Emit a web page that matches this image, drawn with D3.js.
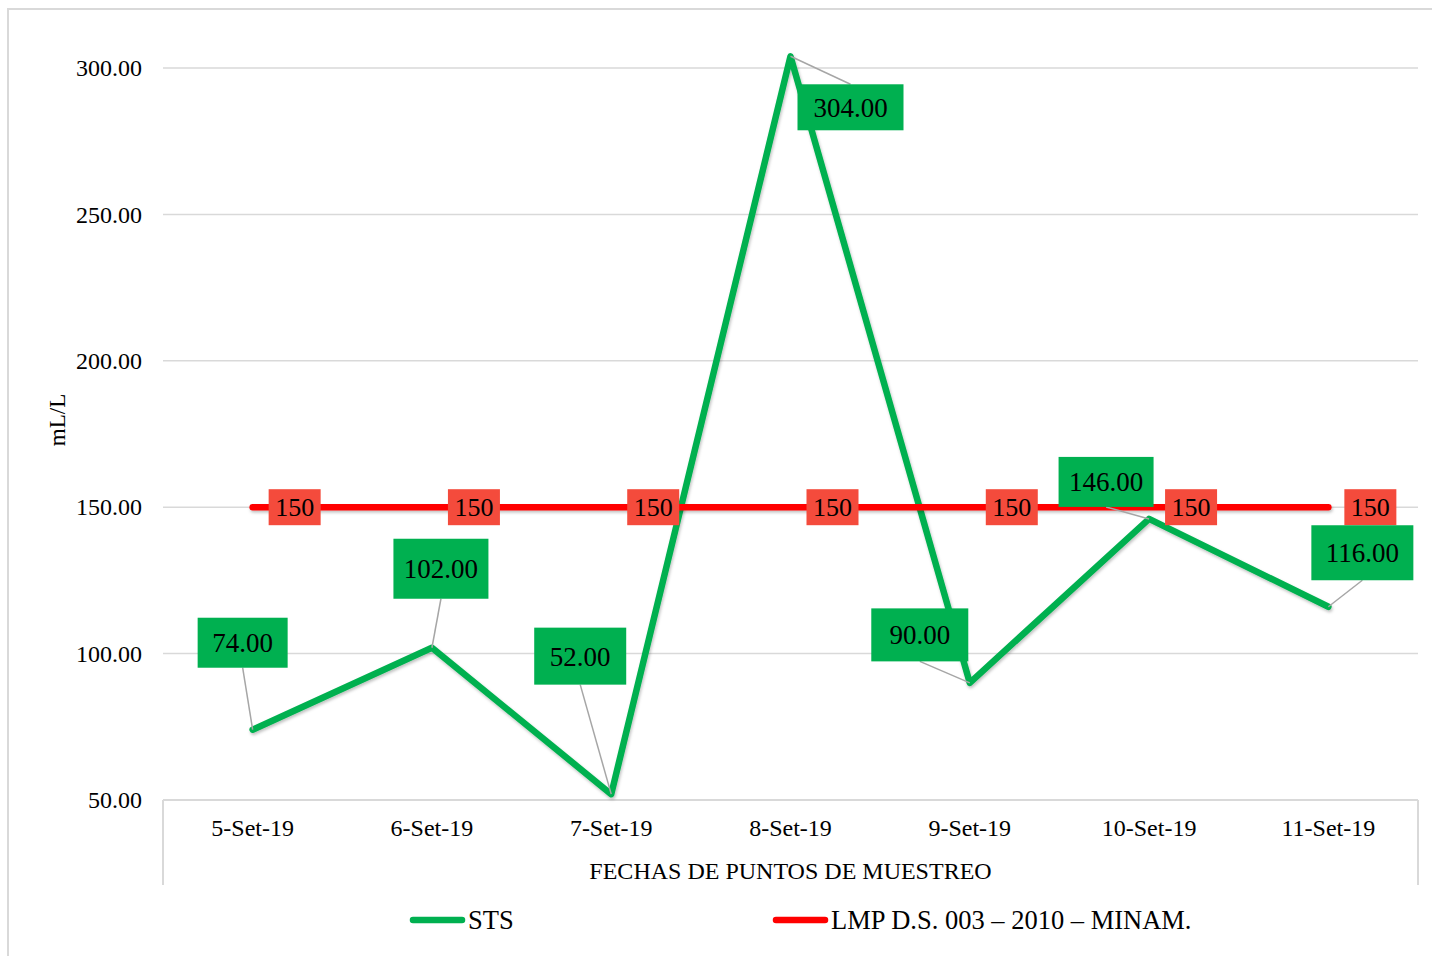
<!DOCTYPE html>
<html>
<head>
<meta charset="utf-8">
<script src="https://cdn.jsdelivr.net/npm/d3@7"></script>
<style>
  body { margin: 0; background: #fff; }
  text { font-family: "Liberation Serif", "Times New Roman", serif; fill: #000; }
</style>
</head>
<body>
<svg id="chart" width="1432" height="956"></svg>
<script>
// data
const fechas = ["5-Set-19", "6-Set-19", "7-Set-19", "8-Set-19", "9-Set-19", "10-Set-19", "11-Set-19"];
const sts = [74, 102, 52, 304, 90, 146, 116];
const lmp = [150, 150, 150, 150, 150, 150, 150];
const yTicks = [50, 100, 150, 200, 250, 300];
// label placement relative to the point (pixels), as in the source chart
const stsLabelOffsets = [[-10, -87], [9, -79], [-31, -138], [60, 51], [-50, -48], [-43, -37], [34, -54]];
const stsLabelSizes = [[90, 50], [95, 60], [92, 57], [106, 46], [97, 53], [95, 50], [102, 55]];

const W = 1432, H = 956;
const margin = { left: 163, right: 14, top: 68, bottom: 156 };
const green = "#00B050", red = "#FF0000", redBox = "#F44B3C";

const svg = d3.select("#chart");

const defs = svg.append("defs");
const f = defs.append("filter").attr("id", "shadow")
    .attr("filterUnits", "userSpaceOnUse")
    .attr("x", 0).attr("y", 0).attr("width", W).attr("height", H);
f.append("feDropShadow").attr("dx", 1).attr("dy", 2).attr("stdDeviation", 1.5)
    .attr("flood-color", "#000").attr("flood-opacity", 0.25);

// outer chart border (cropped on right/bottom)
svg.append("rect")
    .attr("x", 8).attr("y", 9).attr("width", 1440).attr("height", 970)
    .attr("fill", "none").attr("stroke", "#d9d9d9").attr("stroke-width", 2);

const x0 = margin.left, x1 = W - margin.right;
const yTop = margin.top, yBot = 800;

const x = d3.scalePoint()
    .domain(fechas)
    .range([x0, x1])
    .padding(0.5);

const y = d3.scaleLinear()
    .domain([50, 300])
    .range([yBot, yTop]);

// gridlines
svg.append("g")
    .selectAll("line")
    .data(yTicks.filter(d => d > 50))
    .join("line")
    .attr("x1", x0).attr("x2", x1)
    .attr("y1", d => y(d)).attr("y2", d => y(d))
    .attr("stroke", "#d9d9d9").attr("stroke-width", 1.5);

// y axis labels
const yAxis = svg.append("g")
    .attr("transform", "translate(" + x0 + ",0)")
    .call(d3.axisLeft(y).tickValues(yTicks).tickFormat(d3.format(".2f")).tickSize(0).tickPadding(21));
yAxis.select(".domain").remove();
yAxis.selectAll("text")
    .style("font-family", "Liberation Serif, serif")
    .style("font-size", "24px")
    .attr("fill", "#000");

// x axis: baseline + category box edges
svg.append("line")
    .attr("x1", x0).attr("x2", x1).attr("y1", yBot).attr("y2", yBot)
    .attr("stroke", "#d9d9d9").attr("stroke-width", 2);
svg.append("g")
    .selectAll("line")
    .data([x0, x1])
    .join("line")
    .attr("x1", d => d).attr("x2", d => d)
    .attr("y1", yBot).attr("y2", 885)
    .attr("stroke", "#d9d9d9").attr("stroke-width", 2);

svg.append("g")
    .selectAll("text")
    .data(fechas)
    .join("text")
    .attr("x", d => x(d))
    .attr("y", 836)
    .attr("text-anchor", "middle")
    .style("font-size", "24px")
    .text(d => d);

// axis titles
svg.append("text")
    .attr("x", (x0 + x1) / 2).attr("y", 879)
    .attr("text-anchor", "middle")
    .style("font-size", "24px")
    .text("FECHAS DE PUNTOS DE MUESTREO");

svg.append("text")
    .attr("transform", "translate(65,420) rotate(-90)")
    .attr("text-anchor", "middle")
    .style("font-size", "23px")
    .text("mL/L");

// lines
const line = d3.line()
    .x((d, i) => x(fechas[i]))
    .y(d => y(d));

svg.append("path")
    .datum(sts)
    .attr("d", line)
    .attr("fill", "none")
    .attr("stroke", green)
    .attr("stroke-width", 6.5)
    .attr("stroke-linejoin", "round")
    .attr("stroke-linecap", "round")
    .attr("filter", "url(#shadow)");

svg.append("path")
    .datum(lmp)
    .attr("d", line)
    .attr("fill", "none")
    .attr("stroke", red)
    .attr("stroke-width", 6.5)
    .attr("stroke-linejoin", "round")
    .attr("stroke-linecap", "round")
    .attr("filter", "url(#shadow)");

// STS leader lines
const stsLabels = sts.map((v, i) => {
    const px = x(fechas[i]), py = y(v);
    const cx = px + stsLabelOffsets[i][0], cy = py + stsLabelOffsets[i][1];
    const w = stsLabelSizes[i][0], h = stsLabelSizes[i][1];
    return { v, px, py, cx, cy, w, h };
});

svg.append("g")
    .selectAll("line")
    .data(stsLabels)
    .join("line")
    .attr("x1", d => d.px).attr("y1", d => d.py)
    .attr("x2", d => d.cx)
    .attr("y2", d => d.cy > d.py ? d.cy - d.h / 2 : d.cy + d.h / 2)
    .attr("stroke", "#a6a6a6").attr("stroke-width", 1.5);

// LMP labels
const lmpG = svg.append("g")
    .selectAll("g")
    .data(lmp)
    .join("g")
    .attr("transform", (d, i) => "translate(" + (x(fechas[i]) + 42) + "," + y(d) + ")");
lmpG.append("rect")
    .attr("x", -26).attr("y", -18).attr("width", 52).attr("height", 36)
    .attr("fill", redBox);
lmpG.append("text")
    .attr("text-anchor", "middle")
    .attr("dy", "0.35em")
    .style("font-size", "26px")
    .text(d => d);

// STS labels
const stsG = svg.append("g")
    .selectAll("g")
    .data(stsLabels)
    .join("g")
    .attr("transform", d => "translate(" + d.cx + "," + d.cy + ")");
stsG.append("rect")
    .attr("x", d => -d.w / 2).attr("y", d => -d.h / 2)
    .attr("width", d => d.w).attr("height", d => d.h)
    .attr("fill", green);
stsG.append("text")
    .attr("text-anchor", "middle")
    .attr("dy", "0.35em")
    .style("font-size", "27px")
    .text(d => d3.format(".2f")(d.v));

// legend
const legend = [
    { name: "STS", color: green, x: 410 },
    { name: "LMP D.S. 003 \u2013 2010 \u2013 MINAM.", color: red, x: 773 }
];
const lg = svg.append("g")
    .selectAll("g")
    .data(legend)
    .join("g")
    .attr("transform", d => "translate(" + d.x + ",920)");
lg.append("line")
    .attr("x1", 3).attr("x2", 52)
    .attr("stroke", d => d.color)
    .attr("stroke-width", 6.5)
    .attr("stroke-linecap", "round");
lg.append("text")
    .attr("x", 58)
    .attr("dy", "0.35em")
    .style("font-size", "26.5px")
    .text(d => d.name);
</script>
</body>
</html>
